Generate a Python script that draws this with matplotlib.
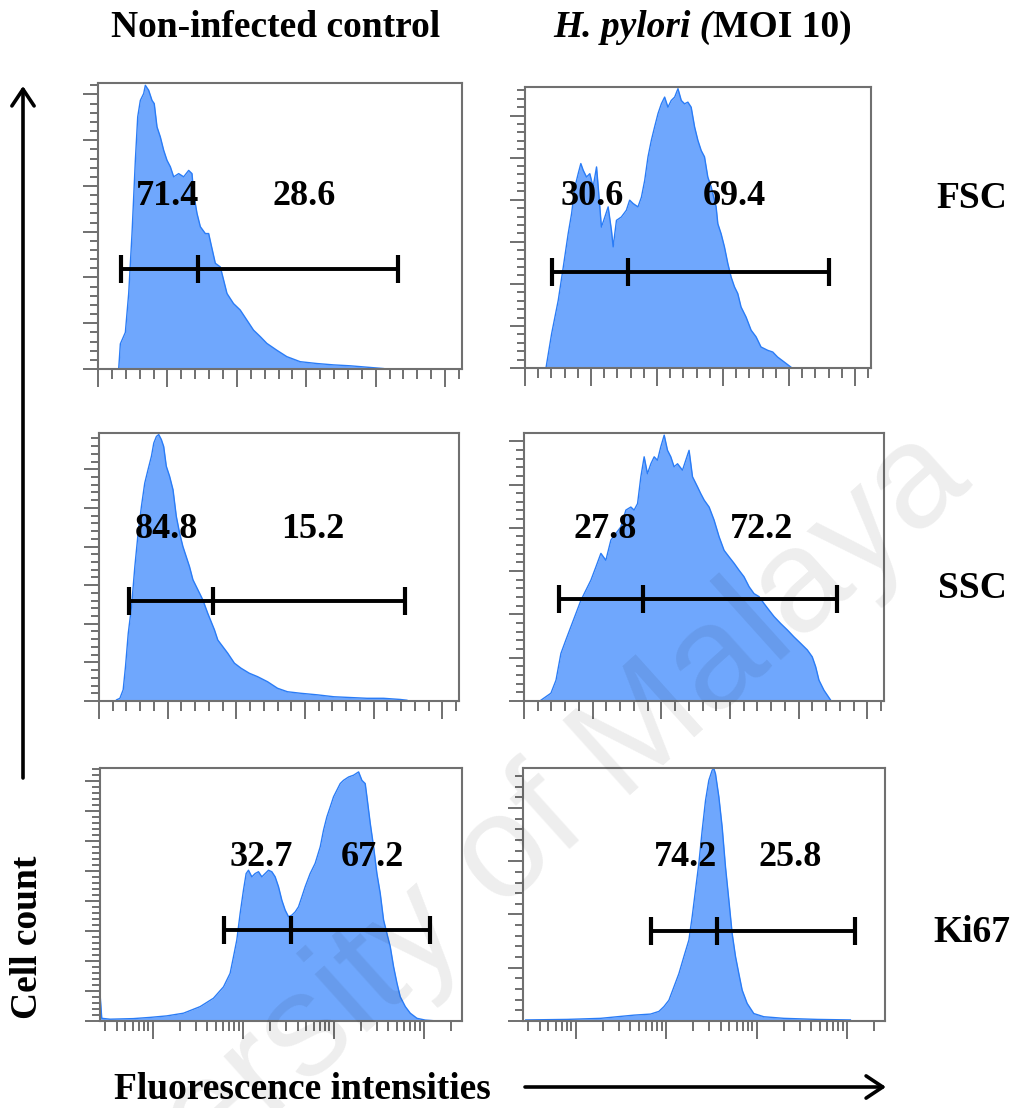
import numpy as np
import matplotlib
matplotlib.use("Agg")
import matplotlib.pyplot as plt
from matplotlib.ticker import MultipleLocator, LogLocator, NullFormatter

# ---------------- data ----------------
col_titles = ["Non-infected control", "H. pylori (MOI 10)"]
row_labels = ["FSC", "SSC", "Ki67"]

# FSC, non-infected (x in K units, y = cell count)
fsc_ctrl_x = [14.9, 16.1, 19.7, 22.1, 24.5, 26.9, 28.6, 30.5, 32.9, 34.1, 36.5, 38.9, 40.5, 42.5, 44.9,
              47.3, 49.7, 52.1, 54.5, 58.1, 61.7, 65.3, 67.7, 68.9, 71.3, 73.7, 77.3, 79.7, 81.3,
              84.5, 88.1, 90.5, 92.9, 97.6, 102.4, 107.2, 112.0, 116.8, 121.6, 128.8, 136.0,
              145.6, 157.6, 169.6, 181.6, 193.6, 205.6]
fsc_ctrl_y = [0, 55, 80, 165, 296, 456, 551, 587, 602, 620, 609, 587, 580, 529, 507,
              478, 456, 442, 420, 427, 420, 434, 427, 383, 340, 311, 296, 296, 274,
              231, 223, 194, 165, 143, 129, 107, 85, 71, 56, 41, 27,
              16, 12, 9, 7, 4, 1]

# FSC, H. pylori
fsc_hp_x = [15.9, 20.2, 25.2, 29.0, 32.7, 35.3, 37.8, 40.3, 42.3, 44.1, 46.6, 49.1, 51.6, 54.2, 55.9,
            57.9, 60.5, 63.0, 65.5, 66.8, 69.3, 73.0, 76.8, 79.3, 81.9, 85.6, 88.2, 90.7, 93.2,
            95.7, 98.2, 100.8, 103.3, 105.8, 108.3, 110.8, 113.4, 115.9, 118.4, 120.9, 123.4,
            125.9, 128.5, 131.0, 133.5, 136.0, 138.5, 141.1, 144.8, 146.1, 148.6, 151.1, 153.7,
            156.2, 158.7, 161.2, 163.7, 167.5, 171.3, 175.1, 178.8, 183.9, 187.7, 191.4, 196.5, 201.5]
fsc_hp_y = [0, 82, 161, 240, 319, 367, 430, 462, 486, 470, 454, 462, 430, 478, 414,
            335, 359, 383, 327, 288, 351, 359, 375, 399, 391, 383, 406, 446, 502,
            541, 573, 605, 628, 644, 620, 636, 644, 664, 636, 628, 632,
            620, 573, 541, 517, 502, 454, 430, 383, 343, 319, 288, 248,
            216, 193, 177, 145, 121, 90, 74, 50, 42, 38, 26, 14, 2]

# SSC, non-infected
ssc_ctrl_x = [12.8, 15.2, 17.6, 19.3, 21.3, 23.7, 26.1, 28.5, 30.9, 33.3, 35.7, 38.2, 39.9, 41.8, 43.5,
              45.4, 47.1, 49.0, 51.4, 53.9, 56.3, 58.7, 61.1, 63.5, 65.9, 68.4, 72.0, 75.6, 79.2,
              84.1, 86.5, 90.1, 93.7, 98.6, 103.4, 109.4, 115.5, 122.7, 130.0, 137.2, 146.9,
              158.9, 171.0, 183.1, 195.2, 207.2, 219.3, 224.2]
ssc_ctrl_y = [3, 7, 29, 89, 175, 245, 348, 435, 504, 564, 599, 634, 668, 685, 690,
              677, 659, 608, 582, 547, 478, 435, 400, 374, 348, 314, 288, 262, 227,
              184, 158, 141, 124, 98, 85, 72, 63, 50, 33, 24, 20,
              16, 11, 9, 7, 7, 4, 2]

# SSC, H. pylori
ssc_hp_x = [12.4, 19.6, 23.3, 26.9, 30.5, 34.2, 37.8, 41.5, 45.1, 48.7, 52.4, 56.0, 59.6, 63.3, 66.9,
            70.5, 74.2, 77.8, 80.2, 82.7, 85.1, 87.5, 89.9, 92.4, 94.8, 97.2, 99.6, 102.1, 104.5,
            106.9, 109.3, 111.8, 115.4, 117.8, 120.2, 122.7, 126.3, 128.7, 131.2, 134.8, 138.4,
            142.1, 145.7, 149.3, 153.0, 156.6, 160.2, 163.9, 167.5, 171.2, 174.8, 178.4, 182.1,
            186.9, 191.8, 196.6, 201.5, 206.3, 209.9, 212.4, 214.8, 218.4, 223.3]
ssc_hp_y = [2, 18, 48, 110, 141, 172, 202, 233, 256, 279, 310, 341, 325, 372, 387,
            402, 441, 448, 441, 456, 518, 564, 525, 548, 564, 556, 587, 614, 579,
            564, 541, 548, 533, 556, 579, 518, 495, 479, 464, 448, 418,
            379, 348, 333, 318, 302, 287, 264, 248, 241, 225, 210, 195,
            179, 164, 148, 133, 118, 102, 79, 48, 25, 2]

# Ki67, non-infected (x = fluorescence intensity, log axis)
ki_ctrl_x = [26.2, 27.4, 33.8, 61.2, 93.6, 143, 219, 335, 470, 607, 718, 782, 851, 927, 1009,
             1080, 1146, 1247, 1357, 1478, 1609, 1751, 1906, 2075, 2259, 2459, 2677, 2914, 3172,
             3453, 3759, 4092, 4454, 4849, 5506, 6253, 7111, 7740, 8420, 9166, 9977, 10860,
             11820, 12870, 14620, 16600, 18880, 20530, 22340, 23330, 25400, 27650, 30070,
             32730, 35640, 38800, 42240, 45980, 50120, 54450, 61940, 70310, 83370, 103000, 127400]
ki_ctrl_y = [92, 9, 6, 8, 12, 17, 26, 48, 76, 114, 159, 214, 270, 359, 437,
             492, 503, 481, 492, 498, 481, 492, 503, 498, 481, 448, 403, 370, 348,
             353, 364, 381, 414, 448, 492, 526, 581, 637, 681, 714, 748, 770,
             792, 803, 814, 820, 831, 803, 792, 748, 659, 581, 492,
             426, 337, 292, 248, 181, 126, 81, 48, 26, 9, 3, 1]

# Ki67, H. pylori
ki_hp_x = [28.1, 80.9, 189, 288, 441, 673, 832, 945, 1073, 1219, 1384, 1572, 1784, 1941, 2112,
           2299, 2503, 2725, 2965, 3228, 3367, 3513, 3824, 4161, 4530, 4932, 5368, 5844, 6359,
           6922, 7857, 9306, 12010, 19970, 46600, 108700]
ki_hp_y = [2, 3, 5, 8, 11, 13, 18, 27, 39, 64, 89, 121, 152, 196, 246,
           296, 358, 414, 452, 471, 474, 464, 421, 364, 289, 227, 164, 121, 89,
           58, 33, 14, 8, 5, 3, 2]

# gates: (left, split, right) and their percentages
fsc_ctrl_gate = [16.6, 71.7, 216.4]
fsc_hp_gate = [20.2, 78.1, 230.5]
ssc_ctrl_gate = [21.7, 82.9, 222.9]
ssc_hp_gate = [25.7, 86.3, 228.1]
ki_ctrl_gate = [622, 3396, 116900]
ki_hp_gate = [673, 3664, 123600]

fsc_ctrl_pct = ["71.4", "28.6"]
fsc_hp_pct = ["30.6", "69.4"]
ssc_ctrl_pct = ["84.8", "15.2"]
ssc_hp_pct = ["27.8", "72.2"]
ki_ctrl_pct = ["32.7", "67.2"]
ki_hp_pct = ["74.2", "25.8"]

# ---------------- layout ----------------
W, H, DPI = 1020, 1108, 100
SERIF = "Liberation Serif"
FILL = "#6fa7fd"
EDGE = "#2a7cf6"
AXC = "#707070"

fig = plt.figure(figsize=(W / DPI, H / DPI), dpi=DPI)


def px_axes(l, t, r, b):
    return fig.add_axes([l / W, 1 - b / H, (r - l) / W, (b - t) / H])


panels = [
    dict(box=(98, 83, 462, 369), log=False, ymax=625, x=fsc_ctrl_x, y=fsc_ctrl_y,
         gate=fsc_ctrl_gate, gy=218, pct=fsc_ctrl_pct, px=(49.7, 148.5), py=358),
    dict(box=(525, 87, 871, 368), log=False, ymax=668, x=fsc_hp_x, y=fsc_hp_y,
         gate=fsc_hp_gate, gy=228, pct=fsc_hp_pct, px=(50.9, 158.7), py=387),
    dict(box=(99, 433, 459, 701), log=False, ymax=694, x=ssc_ctrl_x, y=ssc_ctrl_y,
         gate=ssc_ctrl_gate, gy=259, pct=ssc_ctrl_pct, px=(49.0, 155.8), py=422),
    dict(box=(524, 433, 884, 701), log=False, ymax=619, x=ssc_hp_x, y=ssc_hp_y,
         gate=ssc_hp_gate, gy=235, pct=ssc_hp_pct, px=(58.9, 173.1), py=377),
    dict(box=(100, 768, 462, 1021), log=True, ymax=844, x=ki_ctrl_x, y=ki_ctrl_y,
         gate=ki_ctrl_gate, gy=303, pct=ki_ctrl_pct, px=(1581, 26900), py=517),
    dict(box=(523, 768, 885, 1021), log=True, ymax=475, x=ki_hp_x, y=ki_hp_y,
         gate=ki_hp_gate, gy=169, pct=ki_hp_pct, px=(1641, 23270), py=291),
]

for p in panels:
    ax = px_axes(*p["box"])
    ax.fill_between(p["x"], p["y"], 0, color=FILL, lw=0, zorder=1)
    ax.plot(p["x"], p["y"], color=EDGE, lw=1.0, zorder=2)
    g = p["gate"]
    ax.plot([g[0], g[2]], [p["gy"]] * 2, color="black", lw=2.8,
            solid_capstyle="butt", zorder=3)
    ax.plot(g, [p["gy"]] * 3, ls="none", marker="|", ms=20, mew=3,
            color="black", zorder=3)
    for s, xx in zip(p["pct"], p["px"]):
        ax.text(xx, p["py"], s, ha="center", va="baseline", fontsize=26,
                fontweight="bold", family=SERIF, zorder=4)
    if p["log"]:
        ax.set_xscale("log")
        ax.set_xlim(26.2, 262144)
        ax.xaxis.set_major_locator(LogLocator(base=10, numticks=20))
        ax.xaxis.set_minor_locator(LogLocator(base=10, subs=np.arange(2, 10), numticks=60))
        ax.xaxis.set_minor_formatter(NullFormatter())
    else:
        ax.set_xlim(0, 262.144)
        ax.xaxis.set_major_locator(MultipleLocator(50))
        ax.xaxis.set_minor_locator(MultipleLocator(10))
    ax.set_ylim(0, p["ymax"])
    ax.yaxis.set_major_locator(MultipleLocator(100))
    ax.yaxis.set_minor_locator(MultipleLocator(20))
    for s in ax.spines.values():
        s.set_color(AXC)
        s.set_linewidth(1.5)
    ax.tick_params(axis="both", which="both", direction="out", colors=AXC,
                   labelbottom=False, labelleft=False, top=False, right=False)
    ax.tick_params(axis="y", which="major", length=11, width=1.4)
    ax.tick_params(axis="y", which="minor", length=6, width=1.4)
    ax.tick_params(axis="x", which="major", length=13, width=1.4)
    ax.tick_params(axis="x", which="minor", length=7, width=1.4)

# overlay for annotations in pixel coordinates
ov = fig.add_axes([0, 0, 1, 1], facecolor="none")
ov.set_xlim(0, W)
ov.set_ylim(H, 0)
ov.axis("off")

FS = 27
ov.text(276, 37, col_titles[0], ha="center", va="baseline", fontsize=FS,
        fontweight="bold", family=SERIF)
t1, t2 = col_titles[1].split("(")
ov.text(713, 37, t1 + "(", ha="right", va="baseline", fontsize=FS,
        fontweight="bold", style="italic", family=SERIF)
ov.text(713, 37, t2, ha="left", va="baseline", fontsize=FS,
        fontweight="bold", family=SERIF)

for lab, yc in zip(row_labels, [198, 588, 932]):
    ov.text(972, yc, lab, ha="center", va="center", fontsize=FS,
            fontweight="bold", family=SERIF)

ov.text(28, 937, "Cell count", ha="center", va="center", rotation=90,
        fontsize=FS, fontweight="bold", family=SERIF)
ov.text(302, 1099, "Fluorescence intensities", ha="center", va="baseline",
        fontsize=FS, fontweight="bold", family=SERIF)

arrow = dict(arrowstyle="->,head_length=0.6,head_width=0.4", lw=2.6,
             color="black", mutation_scale=20, shrinkA=0, shrinkB=0)
ov.annotate("", xy=(23, 86), xytext=(23, 778), arrowprops=arrow)
ov.annotate("", xy=(886, 1087), xytext=(525, 1087), arrowprops=arrow)

# watermark
fig.text(456 / W, 1 - 901 / H, "University of Malaya", rotation=42,
         rotation_mode="anchor", ha="center", va="center", fontsize=106,
         color="black", alpha=0.07, family="Liberation Sans", zorder=10)

fig.savefig("out.png", dpi=DPI)
